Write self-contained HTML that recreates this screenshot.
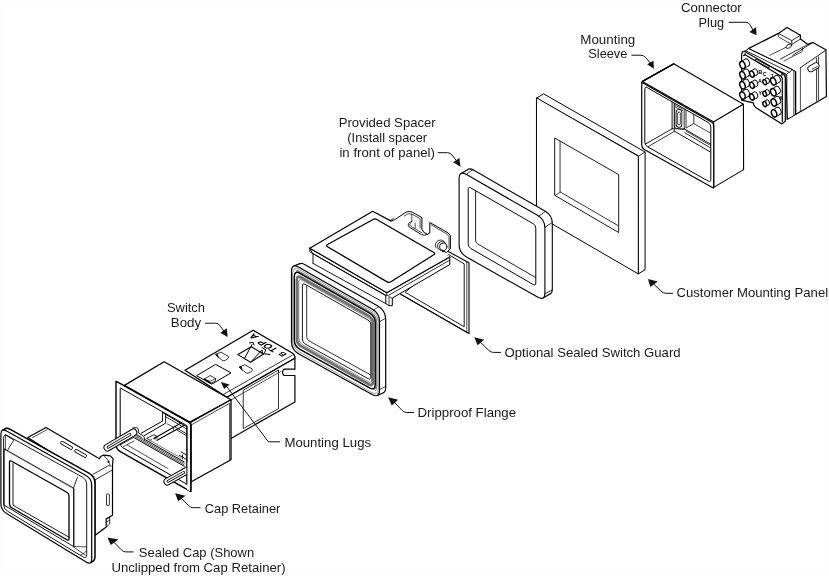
<!DOCTYPE html>
<html><head><meta charset="utf-8"><title>Exploded view</title>
<style>
html,body{margin:0;padding:0;background:#fff;}
body{width:829px;height:576px;overflow:hidden;}
svg{display:block;filter:grayscale(1);}
svg text{font-family:"Liberation Sans",sans-serif;fill:#1a1a1a;}
</style></head><body>
<svg width="829" height="576" viewBox="0 0 829 576" stroke-linecap="round" stroke-linejoin="round">
<rect x="0.5" y="0.5" width="828" height="575" fill="#fff" stroke="#fcfcfc" stroke-width="1"/>
<path d="M748.4 48.6 L778.4 33.4 L787 27.6 L800.4 35.3 L800.4 39.1 L808 44.4 L812.8 42.5 L825.9 49.8 L826.4 96.6 L795.6 114.5 L792.3 69.8Z" fill="#fff" stroke="#000" stroke-width="1.2" />
<path d="M778.4 33.4 L791.8 40.6 L800.4 35.3" fill="none" stroke="#000" stroke-width="0.8" />
<path d="M791.8 40.6 L791.8 44.4 L800.4 39.1" fill="none" stroke="#000" stroke-width="0.8" />
<path d="M778.4 33.4 L778.4 36.8 L790.8 43.9" fill="none" stroke="#000" stroke-width="0.7" />
<path d="M808 44.4 L780.3 59.1" fill="none" stroke="#000" stroke-width="0.8" />
<path d="M812.8 42.5 L792.7 55.3" fill="none" stroke="#000" stroke-width="0.8" />
<path d="M802.3 48.3 L802.3 51.5 L784.1 61" fill="none" stroke="#000" stroke-width="0.7" />
<path d="M791.8 44.4 L769.8 55.3" fill="none" stroke="#000" stroke-width="0.7" />
<path d="M825.9 50.2 L800.4 67.7" fill="none" stroke="#000" stroke-width="0.9" />
<ellipse cx="788.9" cy="46.2" rx="3.2" ry="1.7" transform="rotate(-28 788.9 46.2)" fill="#fff" stroke="#000" stroke-width="0.8"/>
<path d="M816.6 58.2 L816.6 101.1" fill="none" stroke="#000" stroke-width="0.8" />
<path d="M818.5 56.8 L818.5 99.8" fill="none" stroke="#000" stroke-width="0.7" />
<path d="M800.4 67.7 L800.4 111.6" fill="none" stroke="#000" stroke-width="0.7" />
<path d="M810.9 68.7 L816.0 65.8" fill="none" stroke="#000" stroke-width="7.0" />
<path d="M810.9 68.7 L816.0 65.8" fill="none" stroke="#fff" stroke-width="5.2" />
<path d="M812.2 69.3 L817.2 66.6" fill="none" stroke="#000" stroke-width="0.7" />
<path d="M742.2 53.4 L748.5 48.6 L792.6 69.8 L795.6 71.5 L795.6 114.5 L787.4 119.4 L786 74.4Z" fill="#fff" stroke="#000" stroke-width="1.0" />
<path d="M745.6 50.6 L789.5 72.3" fill="none" stroke="#000" stroke-width="0.8" />
<path d="M786 74.6 L792.6 69.8" fill="none" stroke="#000" stroke-width="0.7" />
<path d="M786.9 75.5 L786.9 119.6" fill="none" stroke="#000" stroke-width="0.7" />
<path d="M793.9 70.6 L793.9 115.4" fill="none" stroke="#000" stroke-width="0.8" />
<path d="M795.6 71.5 L795.6 114.5" fill="none" stroke="#000" stroke-width="1.2" />
<path d="M741.6 55.6 Q741.6 51.7 744.4 51.2 L781.9 73.1 Q785.3 74.7 785.3 78.3 L785.3 121.2 L781.9 123.9 L755.6 107.5 L753.8 104.8 L753.4 102.8 L741.6 100.2Z" fill="#fff" stroke="#000" stroke-width="1.2" />
<path d="M743.6 55.6 L745.2 54.8 L781.1 76.2 L782.3 78.3 L782.3 121.6" fill="none" stroke="#000" stroke-width="1.2" />
<path d="M756.1 60 L768.6 66.9" fill="none" stroke="#000" stroke-width="2.2" />
<path d="M756.4 60.2 L768.3 66.7" fill="none" stroke="#fff" stroke-width="0.9" />
<circle cx="745.0" cy="54.4" r="1.1" fill="#333"/>
<circle cx="781.9" cy="74.7" r="1.1" fill="#333"/>
<ellipse cx="746.8" cy="62.5" rx="2.5" ry="3.8" transform="rotate(-22 746.8 62.5)" fill="#fff" stroke="#000" stroke-width="0.9"/>
<path d="M741.1 61.5 L745.4 59.0 L748.2 66.1 L743.9 68.5Z" fill="#fff" stroke="none"/>
<path d="M741.1 61.5 L745.4 59.0 M743.9 68.5 L748.2 66.1" fill="none" stroke="#000" stroke-width="0.8"/>
<ellipse cx="742.5" cy="65.0" rx="2.5" ry="3.8" transform="rotate(-22 742.5 65.0)" fill="#fff" stroke="#000" stroke-width="1.5"/>
<ellipse cx="746.8" cy="72.7" rx="2.5" ry="3.8" transform="rotate(-22 746.8 72.7)" fill="#fff" stroke="#000" stroke-width="0.9"/>
<path d="M741.1 71.6 L745.4 69.2 L748.2 76.2 L743.9 78.7Z" fill="#fff" stroke="none"/>
<path d="M741.1 71.6 L745.4 69.2 M743.9 78.7 L748.2 76.2" fill="none" stroke="#000" stroke-width="0.8"/>
<ellipse cx="742.5" cy="75.2" rx="2.5" ry="3.8" transform="rotate(-22 742.5 75.2)" fill="#fff" stroke="#000" stroke-width="1.5"/>
<ellipse cx="746.8" cy="82.8" rx="2.5" ry="3.8" transform="rotate(-22 746.8 82.8)" fill="#fff" stroke="#000" stroke-width="0.9"/>
<path d="M741.1 81.8 L745.4 79.3 L748.2 86.4 L743.9 88.8Z" fill="#fff" stroke="none"/>
<path d="M741.1 81.8 L745.4 79.3 M743.9 88.8 L748.2 86.4" fill="none" stroke="#000" stroke-width="0.8"/>
<ellipse cx="742.5" cy="85.3" rx="2.5" ry="3.8" transform="rotate(-22 742.5 85.3)" fill="#fff" stroke="#000" stroke-width="1.5"/>
<ellipse cx="746.8" cy="93.0" rx="2.5" ry="3.8" transform="rotate(-22 746.8 93.0)" fill="#fff" stroke="#000" stroke-width="0.9"/>
<path d="M741.1 91.9 L745.4 89.5 L748.2 96.5 L743.9 99.0Z" fill="#fff" stroke="none"/>
<path d="M741.1 91.9 L745.4 89.5 M743.9 99.0 L748.2 96.5" fill="none" stroke="#000" stroke-width="0.8"/>
<ellipse cx="742.5" cy="95.5" rx="2.5" ry="3.8" transform="rotate(-22 742.5 95.5)" fill="#fff" stroke="#000" stroke-width="1.5"/>
<ellipse cx="755.5" cy="72.0" rx="2.1" ry="3.2" transform="rotate(-22 755.5 72.0)" fill="#fff" stroke="#000" stroke-width="0.9"/>
<path d="M750.7 71.1 L754.3 69.0 L756.7 74.9 L753.1 77.0Z" fill="#fff" stroke="none"/>
<path d="M750.7 71.1 L754.3 69.0 M753.1 77.0 L756.7 74.9" fill="none" stroke="#000" stroke-width="0.8"/>
<ellipse cx="751.9" cy="74.1" rx="2.1" ry="3.2" transform="rotate(-22 751.9 74.1)" fill="#fff" stroke="#000" stroke-width="1.5"/>
<ellipse cx="755.5" cy="83.2" rx="2.1" ry="3.2" transform="rotate(-22 755.5 83.2)" fill="#fff" stroke="#000" stroke-width="0.9"/>
<path d="M750.7 82.3 L754.3 80.3 L756.7 86.2 L753.1 88.3Z" fill="#fff" stroke="none"/>
<path d="M750.7 82.3 L754.3 80.3 M753.1 88.3 L756.7 86.2" fill="none" stroke="#000" stroke-width="0.8"/>
<ellipse cx="751.9" cy="85.3" rx="2.1" ry="3.2" transform="rotate(-22 751.9 85.3)" fill="#fff" stroke="#000" stroke-width="1.5"/>
<ellipse cx="755.5" cy="95.0" rx="2.1" ry="3.2" transform="rotate(-22 755.5 95.0)" fill="#fff" stroke="#000" stroke-width="0.9"/>
<path d="M750.7 94.1 L754.3 92.0 L756.7 97.9 L753.1 100.0Z" fill="#fff" stroke="none"/>
<path d="M750.7 94.1 L754.3 92.0 M753.1 100.0 L756.7 97.9" fill="none" stroke="#000" stroke-width="0.8"/>
<ellipse cx="751.9" cy="97.0" rx="2.1" ry="3.2" transform="rotate(-22 751.9 97.0)" fill="#fff" stroke="#000" stroke-width="1.5"/>
<ellipse cx="767.6" cy="80.5" rx="1.7" ry="2.6" transform="rotate(-22 767.6 80.5)" fill="#fff" stroke="#000" stroke-width="0.9"/>
<path d="M763.7 79.8 L766.7 78.1 L768.6 82.9 L765.7 84.6Z" fill="#fff" stroke="none"/>
<path d="M763.7 79.8 L766.7 78.1 M765.7 84.6 L768.6 82.9" fill="none" stroke="#000" stroke-width="0.8"/>
<ellipse cx="764.7" cy="82.2" rx="1.7" ry="2.6" transform="rotate(-22 764.7 82.2)" fill="#fff" stroke="#000" stroke-width="1.5"/>
<ellipse cx="767.6" cy="92.2" rx="1.7" ry="2.6" transform="rotate(-22 767.6 92.2)" fill="#fff" stroke="#000" stroke-width="0.9"/>
<path d="M763.7 91.5 L766.7 89.8 L768.6 94.6 L765.7 96.3Z" fill="#fff" stroke="none"/>
<path d="M763.7 91.5 L766.7 89.8 M765.7 96.3 L768.6 94.6" fill="none" stroke="#000" stroke-width="0.8"/>
<ellipse cx="764.7" cy="93.9" rx="1.7" ry="2.6" transform="rotate(-22 764.7 93.9)" fill="#fff" stroke="#000" stroke-width="1.5"/>
<ellipse cx="767.6" cy="102.4" rx="1.7" ry="2.6" transform="rotate(-22 767.6 102.4)" fill="#fff" stroke="#000" stroke-width="0.9"/>
<path d="M763.7 101.7 L766.7 100.0 L768.6 104.8 L765.7 106.5Z" fill="#fff" stroke="none"/>
<path d="M763.7 101.7 L766.7 100.0 M765.7 106.5 L768.6 104.8" fill="none" stroke="#000" stroke-width="0.8"/>
<ellipse cx="764.7" cy="104.1" rx="1.7" ry="2.6" transform="rotate(-22 764.7 104.1)" fill="#fff" stroke="#000" stroke-width="1.5"/>
<ellipse cx="777.6" cy="78.9" rx="2.5" ry="3.8" transform="rotate(-22 777.6 78.9)" fill="#fff" stroke="#000" stroke-width="0.9"/>
<path d="M771.9 77.9 L776.2 75.4 L779.0 82.5 L774.7 84.9Z" fill="#fff" stroke="none"/>
<path d="M771.9 77.9 L776.2 75.4 M774.7 84.9 L779.0 82.5" fill="none" stroke="#000" stroke-width="0.8"/>
<ellipse cx="773.3" cy="81.4" rx="2.5" ry="3.8" transform="rotate(-22 773.3 81.4)" fill="#fff" stroke="#000" stroke-width="1.5"/>
<ellipse cx="777.6" cy="89.9" rx="2.5" ry="3.8" transform="rotate(-22 777.6 89.9)" fill="#fff" stroke="#000" stroke-width="0.9"/>
<path d="M771.9 88.8 L776.2 86.4 L779.0 93.4 L774.7 95.9Z" fill="#fff" stroke="none"/>
<path d="M771.9 88.8 L776.2 86.4 M774.7 95.9 L779.0 93.4" fill="none" stroke="#000" stroke-width="0.8"/>
<ellipse cx="773.3" cy="92.3" rx="2.5" ry="3.8" transform="rotate(-22 773.3 92.3)" fill="#fff" stroke="#000" stroke-width="1.5"/>
<ellipse cx="778.0" cy="100.0" rx="2.5" ry="3.8" transform="rotate(-22 778.0 100.0)" fill="#fff" stroke="#000" stroke-width="0.9"/>
<path d="M772.3 99.0 L776.6 96.5 L779.5 103.6 L775.2 106.0Z" fill="#fff" stroke="none"/>
<path d="M772.3 99.0 L776.6 96.5 M775.2 106.0 L779.5 103.6" fill="none" stroke="#000" stroke-width="0.8"/>
<ellipse cx="773.8" cy="102.5" rx="2.5" ry="3.8" transform="rotate(-22 773.8 102.5)" fill="#fff" stroke="#000" stroke-width="1.5"/>
<ellipse cx="778.4" cy="111.0" rx="2.5" ry="3.8" transform="rotate(-22 778.4 111.0)" fill="#fff" stroke="#000" stroke-width="0.9"/>
<path d="M772.6 109.9 L776.9 107.4 L779.8 114.5 L775.5 117.0Z" fill="#fff" stroke="none"/>
<path d="M772.6 109.9 L776.9 107.4 M775.5 117.0 L779.8 114.5" fill="none" stroke="#000" stroke-width="0.8"/>
<ellipse cx="774.1" cy="113.4" rx="2.5" ry="3.8" transform="rotate(-22 774.1 113.4)" fill="#fff" stroke="#000" stroke-width="1.5"/>
<text x="758.4" y="73.6" font-size="5.2" font-weight="bold" style="fill:#000">B</text>
<text x="758.1" y="83.0" font-size="5.2" font-weight="bold" style="fill:#000">A</text>
<text x="758.4" y="95.0" font-size="5.2" font-weight="bold" style="fill:#000">Y</text>
<text x="762.8" y="76.2" font-size="5.2" font-weight="bold" style="fill:#000">C</text>
<text x="770.2" y="77.5" font-size="5.2" font-weight="bold" style="fill:#000">J</text>
<text x="779.5" y="100.2" font-size="5.2" font-weight="bold" style="fill:#000">K</text>
<path d="M642.3 81.5 L673.7 63.8 L743.4 104.3 L713.7 121.9Z" fill="#fff" stroke="#000" stroke-width="1.1" />
<path d="M713.7 121.9 L743.4 104.3 L743.6 169.6 L713.7 187.4Z" fill="#fff" stroke="#000" stroke-width="1.1" />
<path d="M642.3 81.5 L673.7 63.8" fill="none" stroke="#000" stroke-width="1.5" />
<path d="M641.7 82.7Q641.7 82.2 642.1 82.4L711.5 122.1Q713.7 123.3 713.7 125.8L713.7 187.7Q713.7 188.2 713.3 188L644.3 149.5Q641.7 148 641.7 145Z" fill="#fff" stroke="#000" stroke-width="1.2" />
<clipPath id="cpSl"><path d="M644.8 89.2Q644.8 86.2 647.4 87.7L708.2 122.5Q710.8 124 710.8 127L710.8 179.6Q710.8 182.6 708.2 181.1L647.4 146.7Q644.8 145.2 644.8 142.2Z"/></clipPath>
<g clip-path="url(#cpSl)">
<path d="M644.9 144.4 L672.1 128.8" fill="none" stroke="#000" stroke-width="0.9" />
<path d="M646.9 147.4 L674.2 131.4" fill="none" stroke="#000" stroke-width="0.8" />
<path d="M672.1 100.2 L672.1 128.8" fill="none" stroke="#000" stroke-width="0.9" />
<path d="M674.2 101.1 L674.2 130.6" fill="none" stroke="#000" stroke-width="0.8" />
<path d="M672.1 128.8 L684.2 128.8" fill="none" stroke="#000" stroke-width="0.7" />
<path d="M674.7 103.7 L674.7 128 L684.2 129.7 L684.2 108" fill="none" stroke="#000" stroke-width="0.8" />
<path d="M679.0 112.3 L679.0 124.5" fill="none" stroke="#000" stroke-width="6.5" />
<path d="M679.0 112.3 L679.0 124.5" fill="none" stroke="#fff" stroke-width="4.9" />
<path d="M679.0 113.2 L679.0 123.6" fill="none" stroke="#000" stroke-width="3.2" />
<path d="M679.0 113.2 L679.0 123.6" fill="none" stroke="#fff" stroke-width="1.8" />
<path d="M675.6 105.4 L682.5 108.9" fill="none" stroke="#000" stroke-width="0.7" />
<path d="M675.6 107.1 L682.5 110.6" fill="none" stroke="#000" stroke-width="0.7" />
<path d="M686 108.9 L686 128 L693.8 123.6 L693.8 112.3" fill="none" stroke="#000" stroke-width="0.8" />
<path d="M693.8 112.3 L709.4 121" fill="none" stroke="#000" stroke-width="0.7" />
<path d="M684.2 128.8 L711.1 144.4" fill="none" stroke="#000" stroke-width="0.9" />
<path d="M686 131.1 L711.1 145.8" fill="none" stroke="#000" stroke-width="0.7" />
<path d="M684.8 132.8 L711.1 148.3" fill="none" stroke="#000" stroke-width="0.8" />
<path d="M674.2 131.1 L711.1 152.4" fill="none" stroke="#000" stroke-width="0.9" />
<path d="M693.8 123.6 L711.1 133.5" fill="none" stroke="#000" stroke-width="0.7" />
</g>
<path d="M644.8 89.2Q644.8 86.2 647.4 87.7L708.2 122.5Q710.8 124 710.8 127L710.8 179.6Q710.8 182.6 708.2 181.1L647.4 146.7Q644.8 145.2 644.8 142.2Z" fill="none" stroke="#000" stroke-width="1.0" />
<path d="M536.8 98 L543.6 93.8 L645.1 152 L645.1 269.7 L638.3 273.9 L638.3 156.2Z" fill="#fff" stroke="#000" stroke-width="1.0" />
<path d="M638.3 156.2 L645.1 152" fill="none" stroke="#000" stroke-width="0.8" />
<path d="M536.8 98L638.3 156.2L638.3 273.9L536.8 215Z" fill="#fff" stroke="#000" stroke-width="1.0" />
<path d="M555 138.2L618.7 174.6L618.7 232.5L555 195.5Z" fill="#fff" stroke="#000" stroke-width="0.9" />
<clipPath id="cpPn"><path d="M555 138.2L618.7 174.6L618.7 232.5L555 195.5Z"/></clipPath>
<g clip-path="url(#cpPn)">
<path d="M560.4 134.8L624.1 171.2L624.1 229.1L560.4 192.1Z" fill="none" stroke="#000" stroke-width="0.8" />
<path d="M555 195.5 L560.4 192.1" fill="none" stroke="#000" stroke-width="0.7" />
</g>
<path d="M466.5 174.6Q466.5 166.1 473.9 170.3L544.9 211.1Q552.3 215.3 552.3 223.8L552.3 288.5Q552.3 297 544.9 292.8L473.9 252.8Q466.5 248.6 466.5 240.1Z" fill="#fff" stroke="#000" stroke-width="1.1" />
<path d="M461 173.5 L468.4 169.3 L472 190Z" fill="#fff" stroke="none"/>
<path d="M461 173.5 L468.4 169.3" fill="none" stroke="#000" stroke-width="1.1" />
<path d="M543 298 L550.4 293.8 L532 281.6Z" fill="#fff" stroke="none"/>
<path d="M543 298 L550.4 293.8" fill="none" stroke="#000" stroke-width="1.1" />
<path d="M459.1 178.8Q459.1 170.3 466.5 174.5L537.5 215.3Q544.9 219.5 544.9 228L544.9 292.7Q544.9 301.2 537.5 297L466.5 257Q459.1 252.8 459.1 244.3Z" fill="#fff" stroke="#000" stroke-width="1.1" />
<path d="M468.2 189.4Q468.2 186.4 470.8 187.9L533.2 223.7Q535.8 225.2 535.8 228.2L535.8 283Q535.8 286 533.2 284.5L470.8 248.5Q468.2 247 468.2 244Z" fill="#fff" stroke="#000" stroke-width="0.9900000000000001" />
<clipPath id="cpSp"><path d="M468.2 189.4Q468.2 186.4 470.8 187.9L533.2 223.7Q535.8 225.2 535.8 228.2L535.8 283Q535.8 286 533.2 284.5L470.8 248.5Q468.2 247 468.2 244Z"/></clipPath>
<g clip-path="url(#cpSp)">
<path d="M475.6 184.7Q475.6 182.2 477.8 183.4L541 219.8Q543.2 221 543.2 223.5L543.2 279.3Q543.2 281.8 541 280.6L477.8 244Q475.6 242.8 475.6 240.3Z" fill="none" stroke="#000" stroke-width="0.8800000000000001" />
</g>
<path d="M466.1 174.6 L473 169.4" fill="none" stroke="#000" stroke-width="0.8" />
<path d="M538.9 216 L545.4 211.4" fill="none" stroke="#000" stroke-width="0.8" />
<path d="M544.9 227.3 L552.3 222.6" fill="none" stroke="#000" stroke-width="0.8" />
<path d="M544.9 293.8 L552.3 290" fill="none" stroke="#000" stroke-width="0.8" />
<path d="M445.1 249.8 L469 262.8 L469 333.4 L400.6 294.3 L400.6 283.4Z" fill="#fff" stroke="#000" stroke-width="1.1" />
<path d="M449 254.8 L464.2 263.9 L464.2 326.8 L405.6 292.5Z" fill="#fff" stroke="#000" stroke-width="0.9" />
<path d="M466.8 261.7 L466.8 332.3 L401.7 294.7" fill="none" stroke="#000" stroke-width="0.7" />
<path d="M392.1 220.6 L395.2 219.4 L406.1 212.1 L409.2 211.5 L412.2 212.1 L421.9 217.6 L421.9 229.2 L423.7 232.2 L427.4 234.3 L429.8 233 L429.8 222.5 L448 232.8 L450.4 235.8 L450.4 248.6 L446.6 252.5 L416.4 240.1 L392.1 226.1Z" fill="#fff" stroke="#000" stroke-width="1.0" />
<path d="M404.3 216 L408.2 213.7 L411.8 214.2 L420.1 218.6 L420.1 228.2" fill="none" stroke="#000" stroke-width="0.7" />
<path d="M411.8 214.2 L411.8 221.6" fill="none" stroke="#000" stroke-width="0.7" />
<path d="M415.2 223.3 L415.2 228.2" fill="none" stroke="#000" stroke-width="0.7" />
<path d="M431.3 224.9 L447 234.1 L449 236.6 L449 249.2" fill="none" stroke="#000" stroke-width="0.7" />
<path d="M411.8 221.6 Q406.1 223.1 409.2 227.0 L421.3 234.6 Q424.3 236.0 427.6 234.4" fill="none" stroke="#000" stroke-width="0.9" />
<path d="M410.4 223.1 Q408.5 224.9 411.0 226.5 L421.9 232.8" fill="none" stroke="#000" stroke-width="0.7" />
<circle cx="440.6" cy="245.2" r="5.2" fill="#fff" stroke="#000" stroke-width="0.8"/>
<circle cx="441.9" cy="246.0" r="4.4" fill="#fff" stroke="#000" stroke-width="0.8"/>
<circle cx="443.2" cy="246.8" r="3.7" fill="#fff" stroke="#000" stroke-width="0.9"/>
<path d="M313 253.6 L385.8 295.3 L385.8 303.6 L389 305.7 L392.3 305.7 L392.3 298.1 L449.8 264.5 L449.8 256.9 L386.8 292.7 L309.8 248.2Z" fill="#fff" stroke="#000" stroke-width="1.0" />
<path d="M313 263.4 L385.8 303.6" fill="none" stroke="#000" stroke-width="0.9" />
<path d="M313 253.6 L313 263.4" fill="none" stroke="#000" stroke-width="0.9" />
<path d="M389 297 L389 305.7" fill="none" stroke="#000" stroke-width="0.7" />
<path d="M392.3 298.1 L389 296.6" fill="none" stroke="#000" stroke-width="0.7" />
<path d="M309.8 248.2 L372.7 211.3 L391.2 221.1 L421.6 238.4 L449.8 256.9 L386.8 292.7Z" fill="#fff" stroke="none" stroke-width="0.1" />
<path d="M391.2 221.1 L372.7 211.3 L309.8 248.2 L386.8 292.7 L449.8 256.9" fill="none" stroke="#000" stroke-width="1.2" />
<path d="M309.8 248.2 L309.8 251.9 L385.1 295.3 L388.6 295.3 L449.8 260.1" fill="none" stroke="#000" stroke-width="0.8" />
<path d="M386.8 292.7 L386.8 295.3" fill="none" stroke="#000" stroke-width="0.7" />
<path d="M327.5 246.7Q325.6 245.6 327.5 244.5L373 219.5Q374.9 218.4 376.8 219.5L433.8 252.5Q435.7 253.6 433.8 254.8L390.9 281.8Q389 283 387.1 281.9Z" fill="none" stroke="#000" stroke-width="1.3" />
<path d="M390.1 220.6 L393.4 218.4" fill="none" stroke="#000" stroke-width="0.8" />
<path d="M297.7 269.4Q297.7 260.4 305.5 264.9L377.9 306.1Q385.7 310.6 385.7 319.6L385.7 386.9Q385.7 395.9 377.8 391.5L305.6 351.7Q297.7 347.3 297.7 338.3Z" fill="#fff" stroke="#000" stroke-width="1.2" />
<path d="M293.6 266 L300 263.6 L304.7 283.4Z" fill="#fff" stroke="none"/>
<path d="M293.6 266 L300 263.6" fill="none" stroke="#000" stroke-width="1.2" />
<path d="M377.3 395.5 L383.4 392.7 L366.3 378.3Z" fill="#fff" stroke="none"/>
<path d="M377.3 395.5 L383.4 392.7" fill="none" stroke="#000" stroke-width="1.2" />
<path d="M291.5 271.5Q291.5 263 298.9 267.2L372.1 309Q379.5 313.2 379.5 321.7L379.5 390Q379.5 398.5 372.1 394.4L298.9 354Q291.5 349.9 291.5 341.4Z" fill="#fff" stroke="#000" stroke-width="1.2" />
<path d="M373.6 310.2 L378.4 306.8" fill="none" stroke="#000" stroke-width="0.7" />
<path d="M379.8 321.5 L385.2 318.6" fill="none" stroke="#000" stroke-width="0.7" />
<path d="M379.5 389.6 L385.4 386.6" fill="none" stroke="#000" stroke-width="0.7" />
<path d="M292.6 273.6Q292.6 265.6 299.5 269.6L371.3 310.4Q378.2 314.4 378.2 322.4L378.2 388.2Q378.2 396.2 371.2 392.3L299.6 352.1Q292.6 348.2 292.6 340.2Z" fill="none" stroke="#555" stroke-width="0.6" />
<clipPath id="cpDfTR"><path d="M293 266 L293 240 L400 240 L400 400 L377 394Z"/></clipPath>
<g clip-path="url(#cpDfTR)">
<path d="M293.4 275.4Q293.4 267.9 299.9 271.6L370.4 311.7Q376.9 315.4 376.9 322.9L376.9 386.1Q376.9 393.6 370.3 390L300 350.8Q293.4 347.2 293.4 339.7Z" fill="none" stroke="#444" stroke-width="0.7" />
<path d="M293.9 276.2Q293.9 269 300.2 272.6L369.9 312.3Q376.2 315.9 376.2 323.1L376.2 385.2Q376.2 392.4 369.9 388.9L300.2 350.3Q293.9 346.8 293.9 339.6Z" fill="none" stroke="#555" stroke-width="0.6" />
</g>
<path d="M294.3 276.7Q294.3 270.2 299.9 273.4L369.6 313.1Q375.2 316.3 375.2 322.8L375.2 384.4Q375.2 390.9 369.5 387.8L300 349.3Q294.3 346.2 294.3 339.7Z" fill="none" stroke="#000" stroke-width="1.5" />
<path d="M296.9 280Q296.9 275 301.2 277.5L368.7 315.9Q373 318.4 373 323.4L373 381.6Q373 386.6 368.6 384.2L301.3 346.4Q296.9 344 296.9 339Z" fill="none" stroke="#707070" stroke-width="2.7" />
<path d="M298.8 282.2Q298.8 278.2 302.3 280.2L368.1 317.8Q371.6 319.8 371.6 323.8L371.6 379.6Q371.6 383.6 368.1 381.6L302.3 344.6Q298.8 342.6 298.8 338.6Z" fill="none" stroke="#333" stroke-width="0.6" />
<path d="M302.4 285.7Q302.4 282.7 305 284.2L368.2 320.2Q370.8 321.7 370.8 324.7L370.8 377.2Q370.8 380.2 368.2 378.7L305 343.9Q302.4 342.4 302.4 339.4Z" fill="#fff" stroke="#000" stroke-width="0.9" />
<clipPath id="cpDf"><path d="M302.4 285.7Q302.4 282.7 305 284.2L368.2 320.2Q370.8 321.7 370.8 324.7L370.8 377.2Q370.8 380.2 368.2 378.7L305 343.9Q302.4 342.4 302.4 339.4Z"/></clipPath>
<g clip-path="url(#cpDf)">
<path d="M306.7 282.4Q306.7 279.9 308.9 281.1L372.9 317.7Q375.1 318.9 375.1 321.4L375.1 374.9Q375.1 377.4 372.9 376.2L308.9 340.8Q306.7 339.6 306.7 337.1Z" fill="none" stroke="#000" stroke-width="0.8" />
</g>
<path d="M185 370.2 L253.2 330.3 L291.8 352.7 Q294.9 354.6 294.9 357 L294.9 358.2 L226.8 397.4 Z" fill="#fff" stroke="#000" stroke-width="1.3" />
<path d="M226.8 397.4 L294.9 358.2 L294.9 369.2 L284 369.2 Q281 372.3 284 375.5 L294.9 375.5 L294.9 402 L231 438.4 L226.8 438 Z" fill="#fff" stroke="#000" stroke-width="1.2" />
<path d="M222.6 394.9 L292.1 355.3" fill="none" stroke="#000" stroke-width="0.8" />
<path d="M231 400 L280.5 371.6" fill="none" stroke="#000" stroke-width="0.7" />
<path d="M243.6 390 L278.5 370 L278.5 408.6 L243.6 428.4Z" fill="none" stroke="#000" stroke-width="0.8" />
<path d="M196.9 375.5 L215.7 364.4 L231 372.9 L212.2 383.9Z" fill="none" stroke="#000" stroke-width="1.0" />
<path d="M204.6 378.9 L210.1 375.5 L215.7 378.6 L215.2 381.2 L210.8 383.3Z" fill="#fff" stroke="#000" stroke-width="0.8" />
<path d="M204.6 378.9 L209.6 381.4 L210.8 383.3 L205.2 380.6Z" fill="#000" stroke="#000" stroke-width="0.8" />
<path d="M209.6 381.6 L215.7 378.6" fill="none" stroke="#000" stroke-width="0.7" />
<path d="M215.7 354.4 l5.4 -2.2 l7 4 q1 1.4 -0.6 2.8 l-2.4 1.4 q-1.6 0.6 -3 -0.2 z" fill="#fff" stroke="#000" stroke-width="0.8" />
<path d="M215.7 354.4 l2.6 3.4 l-0.6 -3.3z" fill="#000" stroke="#000" stroke-width="0.5" />
<path d="M239.5 367.0 l5.4 -2.2 l7 4 q1 1.4 -0.6 2.8 l-2.4 1.4 q-1.6 0.6 -3 -0.2 z" fill="#fff" stroke="#000" stroke-width="0.8" />
<path d="M239.5 367.0 l2.6 3.4 l-0.6 -3.3z" fill="#000" stroke="#000" stroke-width="0.5" />
<path d="M237.9 354.6 L251.3 346.8 L263.6 354 L250.6 362.3Z" fill="none" stroke="#000" stroke-width="1.1" />
<path d="M244.5 358.5 L252 344.5" fill="none" stroke="#000" stroke-width="1.0" />
<path d="M250.6 362.3 L262 350 L262.5 353.5 L270 354.5" fill="none" stroke="#000" stroke-width="1.0" />
<path d="M249.5 343 L253 342.3 L254 345" fill="none" stroke="#000" stroke-width="1.0" />
<path d="M262 347.5 L266 350 L264.5 352.5" fill="none" stroke="#000" stroke-width="1.0" />
<text transform="matrix(-0.87 -0.5 0.87 -0.5 259.5 336.6)" font-size="9.5" font-weight="bold" style="fill:#000">A</text>
<text transform="matrix(-0.87 -0.5 0.87 -0.5 278.8 349.2)" font-size="9.5" font-weight="bold" style="fill:#000">TOP</text>
<text transform="matrix(-0.87 -0.5 0.87 -0.5 287.2 354.2)" font-size="8" font-weight="bold" style="fill:#000">B</text>
<path d="M124.4 385.4 L164.1 361.8 L231 399.8 L189.8 422Z" fill="#fff" stroke="#000" stroke-width="1.3" />
<path d="M190.8 422.3 L231 399.8 L231 459.7 L190.8 482Z" fill="#fff" stroke="#000" stroke-width="1.3" />
<path d="M191.1 425 L229.6 403.3 L229.6 459.5" fill="none" stroke="#000" stroke-width="0.7" />
<path d="M116 381.7Q116 381.2 116.4 381.4L189.1 422.4Q190.8 423.4 190.8 425.4L190.8 491.1Q190.8 491.6 190.4 491.4L120.3 451.7Q116 449.2 116 444.2Z" fill="#fff" stroke="#000" stroke-width="1.4" />
<clipPath id="cpRet"><path d="M120.2 388.4Q120.2 387.9 120.6 388.1L185.2 424.6Q186.9 425.6 186.9 427.6L186.9 483.7Q186.9 484.2 186.5 484L122.8 447.7Q120.2 446.2 120.2 443.2Z"/></clipPath>
<g clip-path="url(#cpRet)">
<path d="M162.5 412 L162.5 420.6" fill="none" stroke="#000" stroke-width="0.9" />
<path d="M165.6 414.4 L165.6 422.5" fill="none" stroke="#000" stroke-width="0.9" />
<path d="M162.5 412.5 L186.9 426.9" fill="none" stroke="#000" stroke-width="1.0" />
<path d="M165.6 416.7 L186.9 429.2" fill="none" stroke="#000" stroke-width="0.8" />
<path d="M141.4 433.1 L162.5 421.1" fill="none" stroke="#000" stroke-width="1.0" />
<path d="M144.5 435.5 L165.3 423.4" fill="none" stroke="#000" stroke-width="1.0" />
<path d="M146.9 438.4 L153.9 434.7 L156.6 436.2 L153.9 438.4" fill="none" stroke="#000" stroke-width="0.8" />
<path d="M153.9 438.4 L182 422.5" fill="none" stroke="#000" stroke-width="1.1" />
<path d="M157 440.3 L184.7 425" fill="none" stroke="#000" stroke-width="1.1" />
<path d="M155 439.1 L157.5 437.8" fill="none" stroke="#000" stroke-width="0.7" />
<path d="M175 426.9 L186.9 434.1" fill="none" stroke="#000" stroke-width="0.8" />
<path d="M176.9 430 L186.9 435.9" fill="none" stroke="#000" stroke-width="0.8" />
<path d="M181.2 451.9 L186.9 455.3" fill="none" stroke="#000" stroke-width="0.9" />
<path d="M179.4 455.3 L186.9 459.7" fill="none" stroke="#000" stroke-width="0.9" />
<path d="M182.5 454.7 L182.5 458.9" fill="none" stroke="#000" stroke-width="0.8" />
<path d="M146.9 438.4 L150 440.3 L151.6 439.7" fill="none" stroke="#000" stroke-width="0.8" />
<path d="M149.7 440.3 L181.2 458.1" fill="none" stroke="#444" stroke-width="0.7" />
<path d="M167.2 423.8 L173.4 427.2 L173.4 430" fill="none" stroke="#000" stroke-width="0.7" />
<path d="M120.3 444.8 L133.6 437.5" fill="none" stroke="#000" stroke-width="0.8" />
<path d="M123.4 446.5 L134 441" fill="none" stroke="#000" stroke-width="0.7" />
<path d="M123.4 448.4 L166 472.8" fill="none" stroke="#000" stroke-width="0.8" />
<path d="M127.3 445 L168 468.6" fill="none" stroke="#000" stroke-width="0.7" />
</g>
<path d="M120.2 388.4Q120.2 387.9 120.6 388.1L185.2 424.6Q186.9 425.6 186.9 427.6L186.9 483.7Q186.9 484.2 186.5 484L122.8 447.7Q120.2 446.2 120.2 443.2Z" fill="none" stroke="#000" stroke-width="1.0" />
<path d="M134.6 433.6 L184.2 461.9" fill="none" stroke="#000" stroke-width="1.0" />
<path d="M134.6 435.1 L184.2 463.3" fill="none" stroke="#333" stroke-width="0.8" />
<path d="M134.6 436.5 L184.2 464.8" fill="none" stroke="#333" stroke-width="0.8" />
<path d="M134.6 438 L184.2 466.2" fill="none" stroke="#000" stroke-width="1.0" />
<path d="M132.8 427.9 L136.8 427.6 Q138.3 428 138.3 430 L138.5 433 L143.5 436 Q144.6 437 144.5 440.2" fill="#fff" stroke="#000" stroke-width="0.9" />
<path d="M107.4 447.6 L133.4 432.4" stroke="#000" stroke-width="7.8" fill="none"/>
<path d="M107.4 447.6 L133.4 432.4" stroke="#fff" stroke-width="5.8" fill="none"/>
<path d="M108.1 447.2 L129.9 434.4" stroke="#000" stroke-width="2.9" fill="none"/>
<path d="M108.1 447.2 L129.9 434.4" stroke="#fff" stroke-width="1.3" fill="none"/>
<path d="M167.4 481.6 L187.2 470.4" stroke="#000" stroke-width="7.8" fill="none"/>
<path d="M167.4 481.6 L187.2 470.4" stroke="#fff" stroke-width="5.8" fill="none"/>
<path d="M168.1 481.2 L183.7 472.4" stroke="#000" stroke-width="2.9" fill="none"/>
<path d="M168.1 481.2 L183.7 472.4" stroke="#fff" stroke-width="1.3" fill="none"/>
<path d="M186.9 462 L190.8 464 L190.8 491.6 L186.9 489.4Z" fill="#fff" stroke="none" stroke-width="0.1" />
<path d="M186.9 425.6 L186.9 484.2" fill="none" stroke="#000" stroke-width="1.0" />
<path d="M190.8 425 L190.8 491.2" fill="none" stroke="#000" stroke-width="1.4" />
<path d="M186.9 484.2 L190.8 491.4" fill="none" stroke="#000" stroke-width="0.1" />
<path d="M27.8 437.5 L46 427.5 L99.5 458.8 L100.5 456.5 L103.4 455.2 L110.3 455.8 L113 458.7 L112.5 466 L112.5 515.3 L106.2 519 L106.2 527 L94.9 535.6 L94.9 480Z" fill="#fff" stroke="#000" stroke-width="1.2" />
<path d="M32.5 437.6 L47 429.6" fill="none" stroke="#000" stroke-width="0.7" />
<path d="M93 474.3 L108.6 465.6 L111.2 466" fill="none" stroke="#000" stroke-width="0.8" />
<path d="M94.7 480 L112.3 470" fill="none" stroke="#000" stroke-width="0.8" />
<path d="M103.4 455.2 L108.3 460.5 L110 465" fill="none" stroke="#000" stroke-width="0.7" />
<circle cx="108.4" cy="461.7" r="1" fill="#000"/>
<path d="M62.2 442.9 L71.0 447.9" stroke="#000" stroke-width="3.8" fill="none"/>
<path d="M62.2 442.9 L71.0 447.9" stroke="#fff" stroke-width="2.2" fill="none"/>
<path d="M76.2 450.9 L85.0 455.9" stroke="#000" stroke-width="3.8" fill="none"/>
<path d="M76.2 450.9 L85.0 455.9" stroke="#fff" stroke-width="2.2" fill="none"/>
<path d="M107.9 495.3 L107.9 504.2" stroke="#000" stroke-width="3.6" fill="none"/>
<path d="M107.9 495.3 L107.9 504.2" stroke="#fff" stroke-width="2.0" fill="none"/>
<path d="M106.2 519 L109.7 517.3 L109.7 524 L106.2 527" fill="none" stroke="#000" stroke-width="0.8" />
<path d="M106.2 522 L109.7 520.2" fill="none" stroke="#000" stroke-width="0.7" />
<path d="M4.2 432.9Q4.2 425.9 10.3 429.3L88.9 473.2Q95 476.6 95 483.6L95 556.3Q95 563.3 89 559.7L10.2 511.8Q4.2 508.2 4.2 501.2Z" fill="#fff" stroke="#000" stroke-width="1.5" />
<path d="M2.3 430.3 L5.7 428.5 L14.5 448.2Z" fill="#fff" stroke="none"/>
<path d="M2.3 430.3 L5.7 428.5" fill="none" stroke="#000" stroke-width="1.5" />
<path d="M90.4 562.8 L93.6 560.6 L78.1 544.4Z" fill="#fff" stroke="none"/>
<path d="M90.4 562.8 L93.6 560.6" fill="none" stroke="#000" stroke-width="1.5" />
<path d="M0.9 434.4Q0.9 427.9 6.6 431.1L86 475.4Q91.7 478.6 91.7 485.1L91.7 558.8Q91.7 565.3 86.1 561.9L6.5 513.6Q0.9 510.2 0.9 503.7Z" fill="#fff" stroke="#000" stroke-width="1.2" />
<path d="M3.6 438Q3.6 433.5 7.5 435.7L82.8 477.3Q86.7 479.5 86.7 484L86.7 554.6Q86.7 559.1 82.8 556.8L7.5 511.2Q3.6 508.9 3.6 504.4Z" fill="none" stroke="#000" stroke-width="0.9" />
<path d="M4.5 449 L73.5 488 L73.5 546.5 L4.5 505.4Z" fill="none" stroke="#000" stroke-width="0.9" />
<path d="M5.2 450 L74 489" fill="none" stroke="#555" stroke-width="0.6" />
<path d="M73.5 488 L77.5 477" fill="none" stroke="#000" stroke-width="0.8" />
<path d="M73.5 546.5 L86.3 546.9" fill="none" stroke="#000" stroke-width="0.7" />
<path d="M73.5 547 L85.4 555.2" fill="none" stroke="#000" stroke-width="0.7" />
<path d="M86.5 550.5 Q85 554 80.5 555" fill="none" stroke="#000" stroke-width="0.6" />
<path d="M5.6 435 L13.9 440.1 L7.4 450.5" fill="none" stroke="#000" stroke-width="0.8" />
<path d="M5.4 435 L5.4 450" fill="none" stroke="#000" stroke-width="0.7" />
<path d="M9.5 462.5Q9.5 460 11.7 461.2L66.8 492.3Q69 493.5 69 496L69 538.5Q69 541 66.8 539.7L11.7 507.8Q9.5 506.5 9.5 504Z" fill="none" stroke="#000" stroke-width="1.3" />
<path d="M13 463.5 L13 505.2 L69 537.2" fill="none" stroke="#000" stroke-width="0.9" />
<path d="M74.6 489 L74.6 547" fill="none" stroke="#444" stroke-width="0.6" />
<text x="711.4" y="11.9" text-anchor="middle" font-size="13" textLength="60.7" lengthAdjust="spacingAndGlyphs">Connector</text>
<text x="711.4" y="26.6" text-anchor="middle" font-size="13" textLength="25.6" lengthAdjust="spacingAndGlyphs">Plug</text>
<path d="M729.1 22.3 L746 22.3 Q748.6 22.3 750.1 24.9 L753.5 30.8" fill="none" stroke="#111" stroke-width="1.0" stroke-linejoin="round"/>
<path d="M756.6 35.3 L749.4 32.1 L756 27.2Z" fill="#111"/>
<text x="607.8" y="43.5" text-anchor="middle" font-size="13" textLength="55" lengthAdjust="spacingAndGlyphs">Mounting</text>
<text x="607.8" y="58.4" text-anchor="middle" font-size="13" textLength="39" lengthAdjust="spacingAndGlyphs">Sleeve</text>
<path d="M631.8 55.2 L641 55.2 Q643.6 55.2 645.6 57.4 L651 63.8" fill="none" stroke="#111" stroke-width="1.0" stroke-linejoin="round"/>
<path d="M653.8 68.8 L647.1 64.3 L653.5 60.7Z" fill="#111"/>
<text x="387.2" y="127.2" text-anchor="middle" font-size="13" textLength="97.1" lengthAdjust="spacingAndGlyphs">Provided Spacer</text>
<text x="387.2" y="142.3" text-anchor="middle" font-size="13" textLength="79.7" lengthAdjust="spacingAndGlyphs">(Install spacer</text>
<text x="387.2" y="157.1" text-anchor="middle" font-size="13" textLength="95.5" lengthAdjust="spacingAndGlyphs">in front of panel)</text>
<path d="M438.1 152.7 L447.6 152.7 Q450.2 152.7 452.1 155 L457.1 161.5" fill="none" stroke="#111" stroke-width="1.0" stroke-linejoin="round"/>
<path d="M460.5 166.8 L453.2 162.3 L459.4 158.1Z" fill="#111"/>
<text x="186" y="311.6" text-anchor="middle" font-size="13" textLength="38" lengthAdjust="spacingAndGlyphs">Switch</text>
<text x="186" y="326.7" text-anchor="middle" font-size="13" textLength="30.3" lengthAdjust="spacingAndGlyphs">Body</text>
<path d="M205.4 323.2 L215.6 323.2 Q218.2 323.2 220 325.6 L224.4 331.8" fill="none" stroke="#111" stroke-width="1.0" stroke-linejoin="round"/>
<path d="M227.6 336.9 L220.4 332.8 L226.8 328.2Z" fill="#111"/>
<text x="676.5" y="296.9" text-anchor="start" font-size="13" textLength="151.6" lengthAdjust="spacingAndGlyphs">Customer Mounting Panel</text>
<path d="M672.6 293.3 L665.8 293.3 Q663.2 293.3 661.1 291.2 L652.8 283.2" fill="none" stroke="#111" stroke-width="1.0" stroke-linejoin="round"/>
<path d="M648 279.1 L650.3 287.1 L657.8 281.4Z" fill="#111"/>
<text x="504.6" y="357.1" text-anchor="start" font-size="13" textLength="176" lengthAdjust="spacingAndGlyphs">Optional Sealed Switch Guard</text>
<path d="M500.6 352.4 L493.4 352.4 Q490.8 352.4 488.7 350.3 L479.6 341.4" fill="none" stroke="#111" stroke-width="1.0" stroke-linejoin="round"/>
<path d="M474.3 337.2 L477.6 345.2 L484.2 339.8Z" fill="#111"/>
<text x="417.5" y="417" text-anchor="start" font-size="13" textLength="98.6" lengthAdjust="spacingAndGlyphs">Dripproof Flange</text>
<path d="M413.5 412.5 L406.6 412.5 Q404 412.5 402 410.3 L393.6 401.5" fill="none" stroke="#111" stroke-width="1.0" stroke-linejoin="round"/>
<path d="M388.1 397.3 L391.8 405.4 L398.1 399.8Z" fill="#111"/>
<text x="284.4" y="446.6" text-anchor="start" font-size="13" textLength="86.7" lengthAdjust="spacingAndGlyphs">Mounting Lugs</text>
<path d="M279.6 441.8 L268.4 441.8 L226.4 386.2" fill="none" stroke="#111" stroke-width="1.0" />
<path d="M220.8 382 L224.2 388.9 L229.5 384.6Z" fill="#111"/>
<text x="204.8" y="512.6" text-anchor="start" font-size="13" textLength="75.5" lengthAdjust="spacingAndGlyphs">Cap Retainer</text>
<path d="M200 507.7 L193.2 507.7 Q190.6 507.7 188.5 505.5 L180.5 497.4" fill="none" stroke="#111" stroke-width="1.0" stroke-linejoin="round"/>
<path d="M175.1 493.3 L178.2 501.2 L185.5 495.7Z" fill="#111"/>
<text x="196.5" y="557.2" text-anchor="middle" font-size="13" textLength="115.3" lengthAdjust="spacingAndGlyphs">Sealed Cap (Shown</text>
<text x="198.5" y="572.2" text-anchor="middle" font-size="13" textLength="174.2" lengthAdjust="spacingAndGlyphs">Unclipped from Cap Retainer)</text>
<path d="M133.1 551.9 L125.8 551.9 Q123.2 551.9 121.2 549.7 L113.1 541.4" fill="none" stroke="#111" stroke-width="1.0" stroke-linejoin="round"/>
<path d="M107.5 537.4 L110.7 545.1 L118.4 539.6Z" fill="#111"/>
</svg>
</body></html>
